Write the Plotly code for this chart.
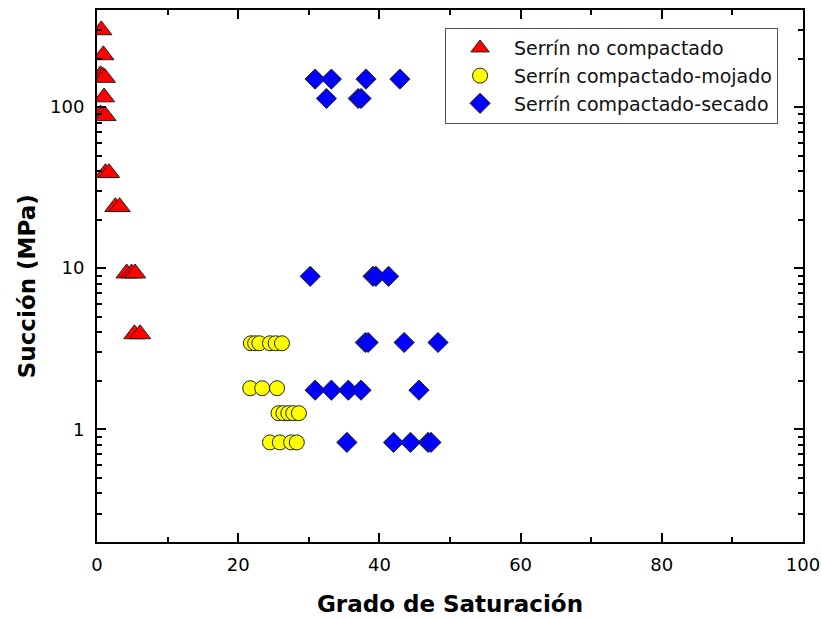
import plotly.graph_objects as go

# Grado de saturación (%) y succión (MPa) por tipo de serrín
no_comp_sr = [0.6, 0.9, 0.5, 0.8, 1.1, 1.0, 0.5, 1.2, 1.2, 1.7, 2.6, 3.2, 4.2, 4.9, 5.4, 5.3, 6.1]
no_comp_s = [300, 210, 158, 155, 152, 115, 90, 88, 39, 39, 24, 24, 9.3, 9.3, 9.3, 3.9, 3.9]

mojado_sr = [21.8, 22.4, 23.0, 24.5, 25.3, 26.2, 21.7, 23.4, 25.5,
             25.7, 26.4, 27.1, 27.8, 28.6, 24.5, 25.9, 27.5, 28.3]
mojado_s = [3.42, 3.42, 3.42, 3.42, 3.42, 3.42, 1.80, 1.80, 1.80,
            1.26, 1.26, 1.26, 1.26, 1.26, 0.83, 0.83, 0.83, 0.83]

secado_sr = [30.9, 33.2, 38.1, 42.9, 32.5, 37.0, 37.4,
             30.2, 39.1, 39.5, 41.3, 38.0, 38.4, 43.5, 48.3,
             30.9, 33.2, 35.6, 37.4, 45.6, 35.4, 42.0, 44.4, 46.9, 47.3]
secado_s = [149, 149, 149, 149, 113, 113, 113,
            8.9, 8.9, 8.9, 8.9, 3.46, 3.46, 3.46, 3.46,
            1.75, 1.75, 1.75, 1.75, 1.75, 0.83, 0.83, 0.83, 0.83, 0.83]

names = ["Serrín no compactado", "Serrín compactado-mojado", "Serrín compactado-secado"]

FONT = "DejaVu Sans"
outline = dict(color="#222222", width=1)

fig = go.Figure()
fig.add_trace(go.Scatter(x=no_comp_sr, y=no_comp_s, mode="markers", name=names[0],
                         marker=dict(symbol="triangle-up", size=18.5, color="#FF0000", line=outline)))
fig.add_trace(go.Scatter(x=mojado_sr, y=mojado_s, mode="markers", name=names[1],
                         marker=dict(symbol="circle", size=15, color="#FFFF00", line=outline)))
fig.add_trace(go.Scatter(x=secado_sr, y=secado_s, mode="markers", name=names[2],
                         marker=dict(symbol="diamond", size=15.5, color="#0000FF", line=outline)))

axis_common = dict(
    showline=True, linecolor="black", linewidth=2, mirror="ticks",
    ticks="inside", ticklen=9, tickwidth=2, tickcolor="black",
    showgrid=False, zeroline=False, automargin=False,
    tickfont=dict(family=FONT, size=18, color="black"),
)

fig.update_xaxes(
    range=[0, 100], dtick=20, tick0=0, ticklabelstandoff=5,
    minor=dict(ticks="inside", ticklen=5, tickwidth=2, tickcolor="black", dtick=10, showgrid=False),
    title=dict(text="<b>Grado de Saturación</b>", font=dict(family=FONT, size=23, color="black"),
               standoff=22),
    **axis_common,
)
fig.update_yaxes(
    type="log", range=[-0.699, 2.602], dtick=1, tick0=0, ticklabelstandoff=7,
    minor=dict(ticks="inside", ticklen=5, tickwidth=2, tickcolor="black", dtick="D1", showgrid=False),
    **axis_common,
)

# Título del eje vertical, colocado como anotación
fig.add_annotation(
    text="<b>Succión (MPa)</b>", textangle=-90,
    xref="paper", yref="paper", x=-0.099, y=0.481,
    xanchor="center", yanchor="middle", showarrow=False,
    font=dict(family=FONT, size=23, color="black"),
)

fig.update_layout(
    width=822, height=619,
    margin=dict(l=97, r=19, t=10, b=77),
    paper_bgcolor="white", plot_bgcolor="white",
    font=dict(family=FONT, color="black"),
    showlegend=True,
    legend=dict(
        x=0.493, y=0.966, xanchor="left", yanchor="top",
        bgcolor="white", bordercolor="#555555", borderwidth=1,
        font=dict(family=FONT, size=19, color="#111111"),
        itemwidth=58,
    ),
)

fig.write_html("out.html")
